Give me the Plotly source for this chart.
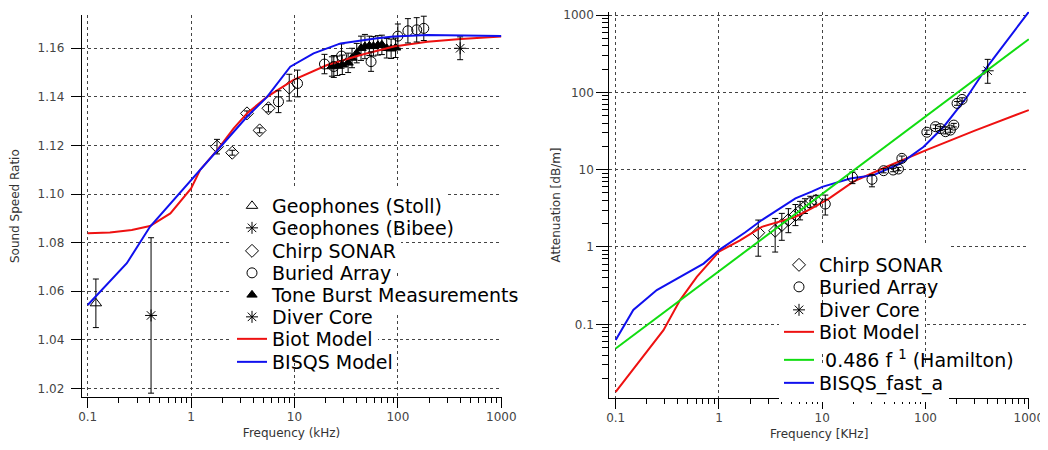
import plotly.graph_objects as go

# ---------------- LEFT PANEL: Sound speed ratio ----------------
stoll_f = [0.12]
stoll_v = [1.055]
stoll_e = [0.010]

bibee_f = [0.41]
bibee_v = [1.050]
bibee_e = [0.032]

chirpL_f = [1.78, 2.5, 3.47, 4.6, 5.6, 8.9]
chirpL_v = [1.1195, 1.117, 1.1332, 1.1262, 1.1353, 1.1438]
chirpL_e = [0.003, 0.001, 0.001, 0.001, 0.0015, 0.0055]

buriedL_f = [7.0, 10.7, 19.5, 24.0, 28.5, 55.0, 100.0, 125.0, 152.0, 178.0]
buriedL_v = [1.138, 1.1455, 1.1535, 1.1525, 1.1568, 1.1545, 1.1650, 1.1672, 1.1676, 1.1682]
buriedL_e = [0.0045, 0.0055, 0.004, 0.0045, 0.005, 0.004, 0.005, 0.005, 0.005, 0.005]

tone_f = [23, 26, 29, 33, 36, 40, 44, 48, 53, 58, 64, 70, 78, 86, 95]
tone_v = [1.1525, 1.1528, 1.1532, 1.1540, 1.1560, 1.1580, 1.1600, 1.1607, 1.1610,
          1.1608, 1.1612, 1.1614, 1.1600, 1.1598, 1.1602]
tone_e = [0.004, 0.004, 0.004, 0.004, 0.004, 0.004, 0.005, 0.005, 0.004, 0.004,
          0.004, 0.004, 0.004, 0.004, 0.004]

diverL_f = [400]
diverL_v = [1.160]
diverL_e = [0.0047]

biotL_f = [0.1, 0.164, 0.267, 0.40, 0.63, 0.81, 1.0, 1.22, 1.78, 2.58, 3.47, 5.43,
           9.8, 20.7, 43.6, 91.4, 193, 405, 790, 1000]
biotL_v = [1.0838, 1.0842, 1.0852, 1.0868, 1.0920, 1.0975, 1.1023, 1.1099, 1.1180,
           1.1270, 1.1332, 1.1400, 1.1470, 1.1531, 1.1572, 1.1607, 1.1627, 1.1638,
           1.1645, 1.1648]

bisqsL_f = [0.1, 0.1416, 0.239, 0.40, 0.63, 1.0, 1.78, 3.47, 5.43, 9.1, 15.3, 27.9,
            63, 91, 193, 1000]
bisqsL_v = [1.0543, 1.0612, 1.0715, 1.0865, 1.0960, 1.1058, 1.1174, 1.1318, 1.1400,
            1.1524, 1.1579, 1.1620, 1.1641, 1.1648, 1.1655, 1.1651]

# ---------------- RIGHT PANEL: Attenuation ----------------
chirpR_f = [2.4, 3.5, 4.06, 4.7, 5.5, 6.1, 6.8, 7.65, 8.7]
chirpR_v = [1.53, 1.62, 1.92, 2.23, 2.59, 2.94, 3.31, 3.73, 3.96]
chirpR_ep = [0.70, 0.72, 0.80, 0.90, 0.95, 0.95, 0.90, 0.80, 0.70]
chirpR_em = [0.77, 0.76, 0.70, 0.70, 0.70, 0.70, 0.60, 0.50, 0.40]

buriedR_f = [10.7, 19.6, 30.3, 39.3, 48.6, 54.7, 59, 103, 125, 139, 156, 174, 188, 202, 226]
buriedR_v = [3.59, 8.0, 7.5, 9.7, 9.9, 10.2, 14, 30.5, 36, 34, 31, 32.5, 37.7, 72, 81]
buriedR_ep = [1.1, 1.3, 1.0, 0.6, 0.5, 0.5, 1.0, 2.0, 2.0, 2.0, 2.0, 2.0, 2.0, 4.0, 4.0]
buriedR_em = [1.0, 1.4, 1.5, 0.6, 0.5, 0.5, 1.0, 2.0, 2.0, 2.0, 2.0, 2.0, 2.0, 4.0, 4.0]

diverR_f = [400]
diverR_v = [190]
diverR_ep = [77]
diverR_em = [59]

biotR_f = [0.1, 0.172, 0.29, 0.42, 0.61, 1.0, 1.6, 2.6, 3.8, 5.5, 7.9, 11.5, 20, 42,
           103, 300, 1000]
biotR_v = [0.0134, 0.0344, 0.084, 0.206, 0.41, 0.87, 1.22, 1.82, 2.12, 2.45, 3.15,
           4.2, 7.0, 10.9, 18, 32, 59]

hamilton_f = [0.1, 1000]
hamilton_v = [0.0486, 486]

bisqsR_f = [0.1, 0.148, 0.25, 0.42, 0.71, 1.0, 1.8, 2.6, 3.8, 5.5, 7.9, 10, 18.7,
            31.4, 57, 96, 150, 253, 395, 617, 1000]
bisqsR_v = [0.0625, 0.153, 0.277, 0.41, 0.61, 0.91, 1.55, 2.23, 3.1, 4.25, 5.2, 6.0,
            7.7, 8.5, 12, 19.8, 35.9, 87.7, 214, 475, 1100]

FONT = "DejaVu Sans"
RED = "#ee1111"
BLUE = "#1010ee"
GREEN = "#11dd11"
LEG_SIZE = 19

# the page body has an 8px margin: lay out in window pixels, then convert
OX, OY = 8, 8
W, H = 1040, 442


def px(xp):
    return (xp - OX) / W


def py(yp):
    return 1 - (yp - OY) / H


X1_RANGE = [-1.058, 3.002]
Y1_RANGE = [1.0163, 1.1737]
X2_RANGE = [-1.062, 3.002]
Y2_RANGE = [-1.957, 3.043]

fig = go.Figure()
legends = {}


def add_legend(key, x_img, y_img, white):
    legends[key] = dict(x=px(x_img), y=py(y_img), xanchor="left", yanchor="middle",
                        bgcolor="white" if white else "rgba(0,0,0,0)", borderwidth=0,
                        font=dict(family=FONT, size=LEG_SIZE, color="black"))


def pts(x, y, name, symbol, size, leg, xa, ya, ep, em=None):
    err = dict(type="data", array=ep, arrayminus=em if em is not None else ep,
               color="black", thickness=1, width=3, visible=True)
    fig.add_trace(go.Scatter(
        x=x, y=y, name=name, mode="markers", xaxis=xa, yaxis=ya, legend=leg,
        marker=dict(symbol=symbol, size=size, color="black",
                    line=dict(color="black", width=1)),
        error_y=err))


def line(x, y, name, color, leg, xa, ya):
    fig.add_trace(go.Scatter(x=x, y=y, name=name, mode="lines", xaxis=xa, yaxis=ya,
                             legend=leg, line=dict(color=color, width=2)))


# Each legend row is its own legend so the row pitch matches the reference.
# White-backed rows belong to the traces added first (their legends are drawn
# underneath); the rows between them are transparent and drawn on top.
LX = 232
left_rows = [206, 228, 251, 273, 295, 317, 339, 362]
left_keys = ["legend", "legend2", "legend3", "legend4", "legend5", "legend6", "legend7", "legend8"]
for i, (k, yy) in enumerate(zip(left_keys, left_rows)):
    add_legend(k, LX, yy, white=(i % 2 == 0))

RX = 779
right_rows = [265, 287, 310, 332, 360, 383]
right_keys = ["legend9", "legend10", "legend11", "legend12", "legend13", "legend14"]
right_white = [True, False, False, True, False, True]
for k, yy, wh in zip(right_keys, right_rows, right_white):
    add_legend(k, RX, yy, white=wh)

# left panel: white-legend rows first
pts(stoll_f, stoll_v, "Geophones (Stoll)", "triangle-up-open", 10, left_keys[0], "x", "y", stoll_e)
pts(chirpL_f, chirpL_v, "Chirp SONAR", "diamond-open", 10, left_keys[2], "x", "y", chirpL_e)
pts(tone_f, tone_v, "Tone Burst Measurements", "triangle-up", 9, left_keys[4], "x", "y", tone_e)
line(biotL_f, biotL_v, "Biot Model", RED, left_keys[6], "x", "y")
pts(bibee_f, bibee_v, "Geophones (Bibee)", "asterisk-open", 10, left_keys[1], "x", "y", bibee_e)
pts(buriedL_f, buriedL_v, "Buried Array", "circle-open", 10, left_keys[3], "x", "y", buriedL_e)
pts(diverL_f, diverL_v, "Diver Core", "asterisk-open", 10, left_keys[5], "x", "y", diverL_e)
line(bisqsL_f, bisqsL_v, "BISQS Model", BLUE, left_keys[7], "x", "y")

# right panel: white-legend rows first
pts(chirpR_f, chirpR_v, "Chirp SONAR", "diamond-open", 10, right_keys[0], "x2", "y2", chirpR_ep, chirpR_em)
line(biotR_f, biotR_v, "Biot Model", RED, right_keys[3], "x2", "y2")
line(bisqsR_f, bisqsR_v, "BISQS_fast_a", BLUE, right_keys[5], "x2", "y2")
pts(buriedR_f, buriedR_v, "Buried Array", "circle-open", 10, right_keys[1], "x2", "y2", buriedR_ep, buriedR_em)
pts(diverR_f, diverR_v, "Diver Core", "asterisk-open", 10, right_keys[2], "x2", "y2", diverR_ep, diverR_em)
line(hamilton_f, hamilton_v, " 0.486 f <sup>1</sup> (Hamilton)", GREEN, right_keys[4], "x2", "y2")

# minor tick positions (2..9 within each decade)
minor_x = [d * m for d in [0.1, 1, 10, 100] for m in range(2, 10)]
minor_y2 = [d * m for d in [0.01, 0.1, 1, 10, 100] for m in range(2, 10)]

common = dict(showline=True, linecolor="black", linewidth=1, ticks="outside",
              tickcolor="black", showgrid=True, gridcolor="#444",
              griddash="dot", gridwidth=1, zeroline=False, automargin=False,
              tickfont=dict(family=FONT, size=12, color="#444"))

xlog = dict(type="log", dtick=1, exponentformat="none", ticklen=10, ticklabelstandoff=-2,
            minor=dict(tickmode="array", tickvals=minor_x, ticks="outside", ticklen=5,
                       tickcolor="black", showgrid=False))

fig.update_layout(
    width=W, height=H, margin=dict(l=0, r=0, t=0, b=0, autoexpand=False),
    paper_bgcolor="white", plot_bgcolor="white",
    font=dict(family=FONT, color="black"),
    showlegend=True,
    xaxis=dict(domain=[px(81.7), px(501.5)], range=X1_RANGE, anchor="y",
               title=dict(text="Frequency (kHz)", font=dict(size=12, color="#333"), standoff=5),
               **xlog, **common),
    yaxis=dict(domain=[py(397.3), py(15)], range=Y1_RANGE, anchor="x",
               tick0=1.02, dtick=0.02, tickformat=".2f", ticklen=10, ticklabelstandoff=4,
               title=dict(text="Sound Speed Ratio", font=dict(size=12, color="#333"), standoff=22),
               **common),
    xaxis2=dict(domain=[px(609.3), px(1029)], range=X2_RANGE, anchor="y2",
                title=dict(text="Frequency [KHz]", font=dict(size=12, color="#333"), standoff=5),
                **xlog, **common),
    yaxis2=dict(domain=[py(398.3), py(11.7)], range=Y2_RANGE, anchor="x2",
                type="log", dtick=1, exponentformat="none", ticklen=12, ticklabelstandoff=0,
                minor=dict(tickmode="array", tickvals=minor_y2, ticks="outside", ticklen=6,
                           tickcolor="black", showgrid=False),
                title=dict(text="Attenuation [dB/m]", font=dict(size=12, color="#333"), standoff=0),
                **common),
    **legends,
)

fig.write_html("out.html")
